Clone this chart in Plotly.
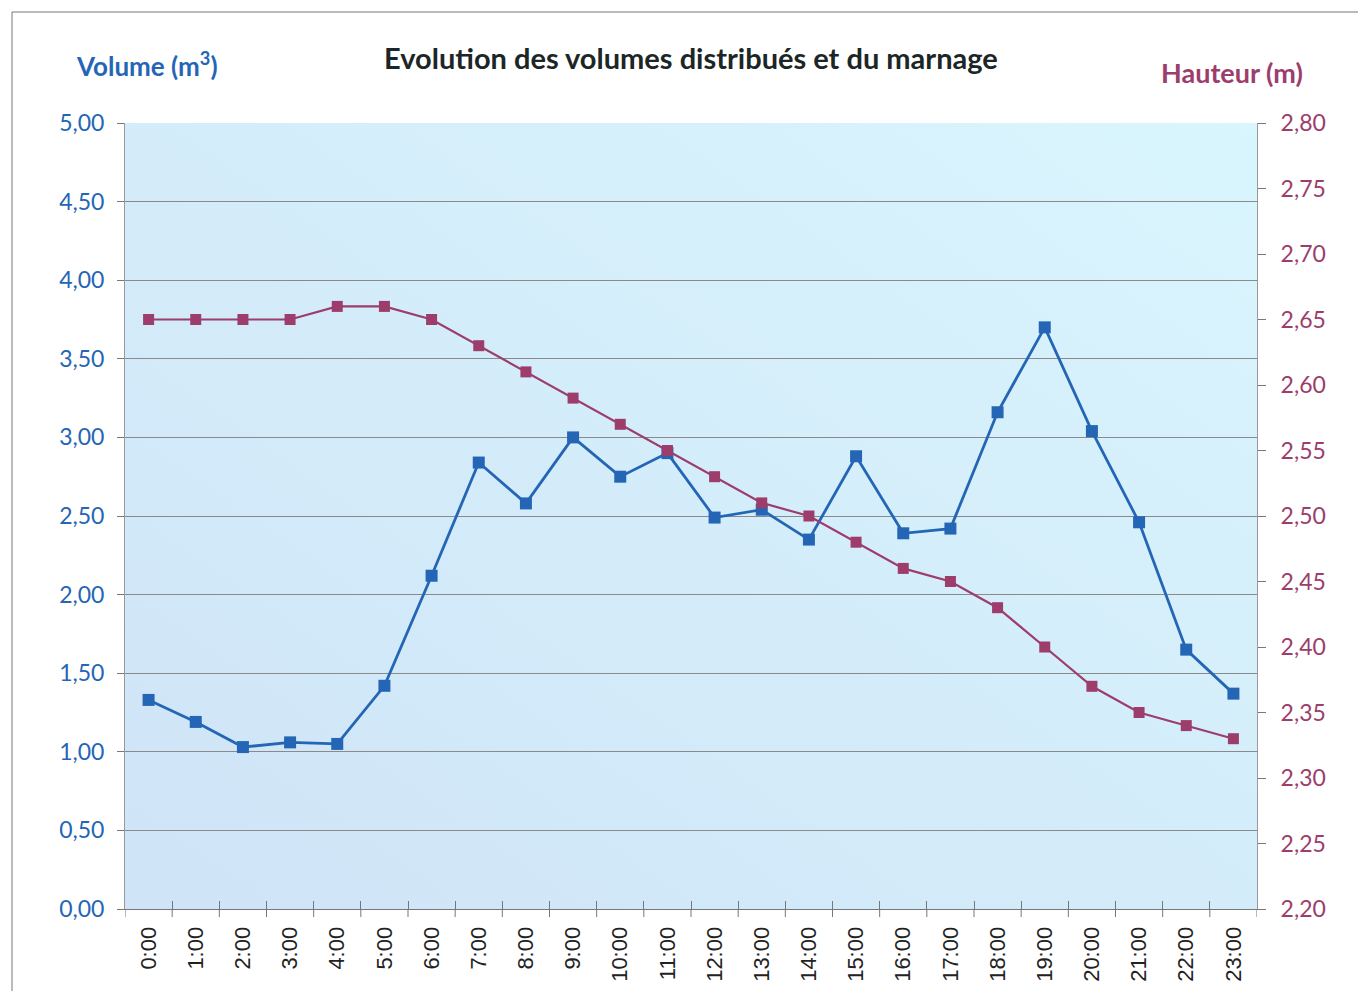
import base64
import plotly.graph_objects as go

# Hourly readings
heures = [f"{h}:00" for h in range(24)]
volumes = [1.33, 1.19, 1.03, 1.06, 1.05, 1.42, 2.12, 2.84, 2.58, 3.00, 2.75, 2.90,
           2.49, 2.54, 2.35, 2.88, 2.39, 2.42, 3.16, 3.70, 3.04, 2.46, 1.65, 1.37]
hauteurs = [2.65, 2.65, 2.65, 2.65, 2.66, 2.66, 2.65, 2.63, 2.61, 2.59, 2.57, 2.55,
            2.53, 2.51, 2.50, 2.48, 2.46, 2.45, 2.43, 2.40, 2.37, 2.35, 2.34, 2.33]

titre = "Evolution des volumes distribués et du marnage"
titre_vol = "Volume (m<sup>3</sup>)"
titre_haut = "Hauteur (m)"

BLEU = "#2466b5"
MAUVE = "#9c3d6c"
GRILLE = "#8a8a8a"

W, H = 1358, 991
ML, MR, MT, MB = 125, 101, 123, 82
PW, PH = W - ML - MR, H - MT - MB

# soft gradient for the plotting area
svg = (
    '<svg xmlns="http://www.w3.org/2000/svg" width="100" height="100" preserveAspectRatio="none">'
    '<defs><linearGradient id="g" x1="0" y1="1" x2="1" y2="0">'
    '<stop offset="0" stop-color="#cfe4f7"/><stop offset="1" stop-color="#d9f5fd"/>'
    '</linearGradient></defs><rect width="100" height="100" fill="url(#g)"/></svg>'
)
fond = "data:image/svg+xml;base64," + base64.b64encode(svg.encode()).decode()

fig = go.Figure()
fig.add_trace(go.Scatter(
    x=heures, y=volumes, mode="lines+markers", name="Volume",
    line=dict(color=BLEU, width=2.8),
    marker=dict(symbol="square", size=12, color=BLEU),
    yaxis="y",
))
fig.add_trace(go.Scatter(
    x=heures, y=hauteurs, mode="lines+markers", name="Hauteur",
    line=dict(color=MAUVE, width=2.2),
    marker=dict(symbol="square", size=11, color=MAUVE),
    yaxis="y2",
))

shapes = []
# outer frame (top and left edges)
shapes.append(dict(type="line", xref="paper", yref="paper",
                   x0=(12 - ML) / PW, x1=(W + 5 - ML) / PW,
                   y0=(H - 12 - MB) / PH, y1=(H - 12 - MB) / PH,
                   line=dict(color="#777777", width=1)))
shapes.append(dict(type="line", xref="paper", yref="paper",
                   x0=(12 - ML) / PW, x1=(12 - ML) / PW,
                   y0=(H - 12 - MB) / PH, y1=-MB / PH - 0.01,
                   line=dict(color="#777777", width=1)))
# lower half of the category boundary ticks
for i in range(len(heures) + 1):
    shapes.append(dict(type="line", xref="x", yref="paper",
                       x0=i - 0.5, x1=i - 0.5, y0=0, y1=-8 / PH,
                       line=dict(color="#777777", width=1)))

fig.update_layout(
    width=W, height=H,
    margin=dict(l=ML, r=MR, t=MT, b=MB, autoexpand=False),
    paper_bgcolor="white",
    plot_bgcolor="rgba(0,0,0,0)",
    separators=", ",
    showlegend=False,
    images=[dict(source=fond, xref="paper", yref="paper", x=0, y=1,
                 sizex=1, sizey=1, sizing="stretch", layer="below",
                 xanchor="left", yanchor="top")],
    shapes=shapes,
    xaxis=dict(
        type="category", range=[-0.5, 23.5], automargin=False,
        tickson="boundaries", ticks="inside", ticklen=8, tickcolor="#777777",
        tickangle=-90, ticklabelstandoff=8,
        tickfont=dict(family="Liberation Sans", size=22, color="#222222"),
        showgrid=False, showline=True, linecolor="#777777", linewidth=1,
        zeroline=False,
    ),
    yaxis=dict(
        range=[0, 5], dtick=0.5, tickformat=".2f", automargin=False,
        ticks="outside", ticklen=7, tickcolor="#777777",
        ticklabelstandoff=8,
        tickfont=dict(family="Lato", size=23, color=BLEU),
        showgrid=True, gridcolor=GRILLE, gridwidth=1,
        showline=True, linecolor="#999999", linewidth=1,
        zeroline=False,
    ),
    yaxis2=dict(
        range=[2.20, 2.80], dtick=0.05, tickformat=".2f", automargin=False,
        overlaying="y", side="right",
        ticks="outside", ticklen=8, tickcolor="#777777",
        ticklabelstandoff=10,
        tickfont=dict(family="Lato", size=23, color=MAUVE),
        showgrid=False, showline=True, linecolor="#999999", linewidth=1,
        zeroline=False,
    ),
    annotations=[
        dict(text=titre, xref="paper", yref="paper",
             x=(691 - ML) / PW, y=(H - 58 - MB) / PH,
             showarrow=False, xanchor="center", yanchor="middle",
             font=dict(family="Lato", size=29, color="#1c2626", weight="bold")),
        dict(text=titre_vol, xref="paper", yref="paper",
             x=(147 - ML) / PW, y=(H - 64 - MB) / PH,
             showarrow=False, xanchor="center", yanchor="middle",
             font=dict(family="Lato", size=26, color=BLEU, weight="bold")),
        dict(text=titre_haut, xref="paper", yref="paper",
             x=(1232 - ML) / PW, y=(H - 73 - MB) / PH,
             showarrow=False, xanchor="center", yanchor="middle",
             font=dict(family="Lato", size=27, color=MAUVE, weight="bold")),
    ],
)

fig.write_html("out.html")
